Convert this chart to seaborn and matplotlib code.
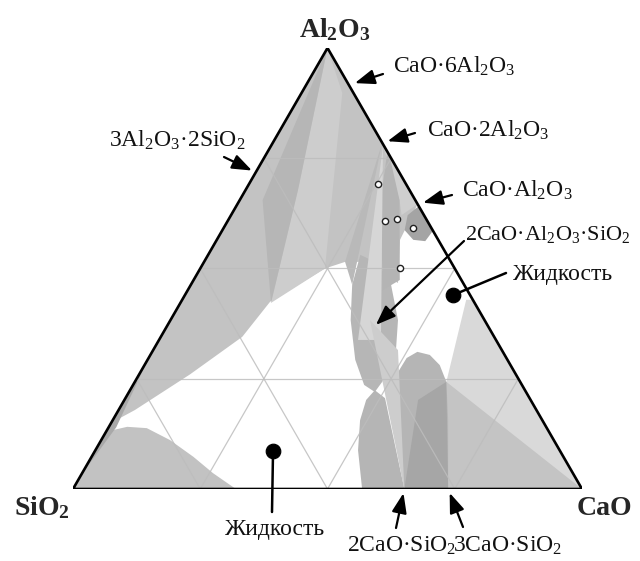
import numpy as np
import pandas as pd
import matplotlib
matplotlib.use("Agg")
import matplotlib.pyplot as plt
import seaborn as sns
from matplotlib.patches import Polygon

sns.set_theme(style="white")
plt.rcParams["font.family"] = ["Liberation Serif", "DejaVu Serif"]
plt.rcParams["mathtext.fontset"] = "custom"
plt.rcParams["mathtext.rm"] = "Liberation Serif"
plt.rcParams["mathtext.it"] = "Liberation Serif:italic"
plt.rcParams["mathtext.bf"] = "Liberation Serif:bold"

# ---------------- data: compositions in wt% (CaO, Al2O3); SiO2 = rest ----------------
# compounds
cmp_names = ["CA6", "CA2", "CA", "A3S2", "C2AS", "C2S", "C3S"]
cmp_cao = [8.4, 21.5, 35.4, 0.0, 40.9, 65.1, 73.7]
cmp_al = [91.6, 78.5, 64.6, 71.8, 37.2, 0.0, 0.0]

# experimental points (open circles)
pts_cao = [25.3, 30.9, 33.1, 37.2, 39.1]
pts_al = [69.2, 60.8, 61.2, 59.2, 50.1]

# liquid compositions (black dots)
liq_cao = [52.7, 35.0]
liq_al = [44.0, 8.6]

# phase-field regions (vertices), with fill shade
top_cao = [0, 0, 3.2, 10, 16, 17.5, 24.5, 27.7, 31.7, 40.5, 36.0, 35.4]
top_al = [100, 15, 17.9, 26, 34.5, 42.5, 50, 51.5, 51.5, 46.7, 56.5, 64.6]
lightband_cao = [0, 8.0, 24.5, 17.8, 10.3]
lightband_al = [100, 89.8, 50, 42.2, 67.8]
darkband_cao = [0, 10.3, 17.8, 4.5]
darkband_al = [100, 67.8, 42.2, 65.5]
ca2strip_cao = [21.5, 27.7, 31.7]
ca2strip_al = [78.5, 51.5, 46.3]
calight_cao = [21.5, 35.4, 33.5, 31.4]
calight_al = [78.5, 64.6, 62.1, 65.5]
lens_cao = [29.9, 33.6, 38.6, 44.7, 47.7, 48.8, 48.3, 45.4, 40.8, 35.4, 31.7]
lens_al = [53.1, 51.5, 47.4, 38.3, 31.5, 25.9, 22.0, 23.6, 29.3, 38.3, 46.3]
medstrip_cao = [23.2, 31.4, 40.5, 38.3, 27.7]
medstrip_al = [77.3, 65.5, 47.4, 45.1, 65.5]
lightstrip_cao = [22.0, 43.6, 39.1]
lightstrip_al = [77.8, 33.8, 33.8]
cablob_cao = [36.0, 39.4, 41.4, 41.1, 38.6, 35.8, 34.7]
cablob_al = [64.4, 61.5, 58.3, 56.2, 56.5, 58.7, 62.1]
rightlight_cao = [57.1, 100, 73.7, 61.2, 55.8]
rightlight_al = [42.9, 0, 0, 24.3, 42.9]
rightmed_cao = [61.2, 73.7, 100]
rightmed_al = [24.3, 0, 0]
lobe_cao = [56.8, 51.6, 48.6, 47.5, 48.1, 51.0, 65.1]
lobe_al = [0, 8.8, 15.6, 20.2, 22.4, 20.6, 0]
dome_cao = [65.1, 59.3, 53.4, 50.6, 50.7, 52.1, 54.9, 58.0, 61.2, 65.9, 73.7]
dome_al = [0, 8.8, 19.0, 26.5, 29.7, 31.1, 30.4, 28.1, 24.3, 15.6, 0]
domecore_cao = [65.1, 57.7, 61.2, 73.7]
domecore_al = [0, 20.2, 24.3, 0]
wedge_cao = [39.2, 48.1, 65.1]
wedge_al = [38.3, 31.5, 0]
hump_cao = [0, 0, 3.6, 7.6, 13.5, 20, 25.7, 32]
hump_al = [0, 13, 14.1, 13.8, 11.1, 7.3, 3.6, 0]
sliver_cao = [0, 1.5, 0]
sliver_al = [30, 14, 3]

grid_levels = [25, 50, 75]

regions = [
    (top_cao, top_al, "#c3c3c3"),
    (lightband_cao, lightband_al, "#cdcdcd"),
    (darkband_cao, darkband_al, "#b6b6b6"),
    (ca2strip_cao, ca2strip_al, "#b9b9b9"),
    (calight_cao, calight_al, "#cfcfcf"),
    (lens_cao, lens_al, "#b6b6b6"),
    (medstrip_cao, medstrip_al, "#b4b4b4"),
    (lightstrip_cao, lightstrip_al, "#d6d6d6"),
    (cablob_cao, cablob_al, "#a4a4a4"),
    (rightlight_cao, rightlight_al, "#d9d9d9"),
    (rightmed_cao, rightmed_al, "#c4c4c4"),
    (lobe_cao, lobe_al, "#b5b5b5"),
    (dome_cao, dome_al, "#b5b5b5"),
    (domecore_cao, domecore_al, "#a6a6a6"),
    (wedge_cao, wedge_al, "#cdcdcd"),
    (hump_cao, hump_al, "#c2c2c2"),
    (sliver_cao, sliver_al, "#a8a8a8"),
]

H = np.sqrt(3) / 2


def tern(cao, al):
    c = np.asarray(cao, dtype=float) / 100.0
    a = np.asarray(al, dtype=float) / 100.0
    return c + a / 2.0, a * H


W, Hpx = 640, 561
fig = plt.figure(figsize=(W / 100, Hpx / 100), dpi=100)
ax = fig.add_axes([73 / W, (Hpx - 489) / Hpx, 509 / W, 441 / Hpx])
ax.set_xlim(0, 1)
ax.set_ylim(0, H)
ax.axis("off")

tri = Polygon([[0, 0], [1, 0], [0.5, H]], closed=True, transform=ax.transData,
              facecolor="none", edgecolor="none")
ax.add_patch(tri)

for cao, al, col in regions:
    x, y = tern(cao, al)
    p = Polygon(np.column_stack([x, y]), closed=True, facecolor=col,
                edgecolor="none", zorder=1)
    ax.add_patch(p)
    p.set_clip_path(tri)

# grid lines
for v in grid_levels:
    segs = [([0, 100 - v], [v, v]),          # constant Al2O3
            ([v, v], [0, 100 - v]),          # constant CaO
            ([100 - v, 0], [0, 100 - v])]    # constant SiO2
    for cao, al in segs:
        x, y = tern(cao, al)
        ax.plot(x, y, color="#bdbdbd", lw=0.9, alpha=0.85, zorder=2)

# outline
ox, oy = tern([0, 100, 0, 0], [0, 0, 100, 0])
ax.plot(ox, oy, color="black", lw=1.9, zorder=5, solid_joinstyle="miter")

# points
px, py = tern(pts_cao, pts_al)
sns.scatterplot(x=px, y=py, s=20, color="white", edgecolor="#222222",
                linewidth=1.0, ax=ax, zorder=6, legend=False)
lx, ly = tern(liq_cao, liq_al)
sns.scatterplot(x=lx, y=ly, s=110, color="black", edgecolor="black",
                ax=ax, zorder=7, legend=False)


def figpix(x, y):
    return (x, Hpx - y)


comp = dict(zip(cmp_names, zip(cmp_cao, cmp_al)))
arrow_style = "-|>,head_length=0.8,head_width=0.3"
arrows = [("CA6", (383, 74), 4.5), ("CA2", (415, 133), 4), ("CA", (452, 195), 4),
          ("A3S2", (224, 157), 3), ("C2AS", (464, 241), 0),
          ("C2S", (396, 528), 3), ("C3S", (463, 527), 3)]
for name, tail, shr in arrows:
    tx, ty = tern(*comp[name])
    ax.annotate("", xy=(tx, ty), xycoords="data", xytext=figpix(*tail),
                textcoords="figure pixels",
                arrowprops=dict(arrowstyle=arrow_style, color="black", lw=1.6,
                                shrinkA=0, shrinkB=shr, mutation_scale=15),
                zorder=8, annotation_clip=False)

# pin lines to liquid dots
for (cx, cy), tail in zip(zip(lx, ly), [(506, 273), (272, 512)]):
    ax.annotate("", xy=(cx, cy), xycoords="data", xytext=figpix(*tail),
                textcoords="figure pixels",
                arrowprops=dict(arrowstyle="-", color="black", lw=1.8,
                                shrinkA=0, shrinkB=0),
                zorder=8, annotation_clip=False)

fs = 17
labels = [
    (r"CaO·6Al$_2$O$_3$", 393, 73, fs),
    (r"CaO·2Al$_2$O$_3$", 427, 137, fs),
    (r"CaO·Al$_2$O$_3$", 462, 197, fs),
    (r"2CaO·Al$_2$O$_3$·SiO$_2$", 465, 240, 16),
    ("Жидкость", 513, 280, fs),
    (r"3Al$_2$O$_3$·2SiO$_2$", 109, 147, fs),
    ("Жидкость", 225, 535, fs),
    (r"2CaO·SiO$_2$", 347, 552, fs),
    (r"3CaO·SiO$_2$", 453, 552, fs),
]
for txt, x, y, size in labels:
    fig.text(x / W, 1 - y / Hpx, txt, fontsize=size, ha="left", va="baseline",
             color="#111111")

fig.text(335 / W, 1 - 37 / Hpx, r"Al$_\mathbf{2}$O$_\mathbf{3}$", fontsize=20,
         fontweight="bold", ha="center", va="baseline")
fig.text(42 / W, 1 - 515 / Hpx, r"SiO$_\mathbf{2}$", fontsize=20,
         fontweight="bold", ha="center", va="baseline")
fig.text(577 / W, 1 - 515 / Hpx, "CaO", fontsize=20, fontweight="bold",
         ha="left", va="baseline")

fig.savefig("out.png", dpi=100, facecolor="white")
